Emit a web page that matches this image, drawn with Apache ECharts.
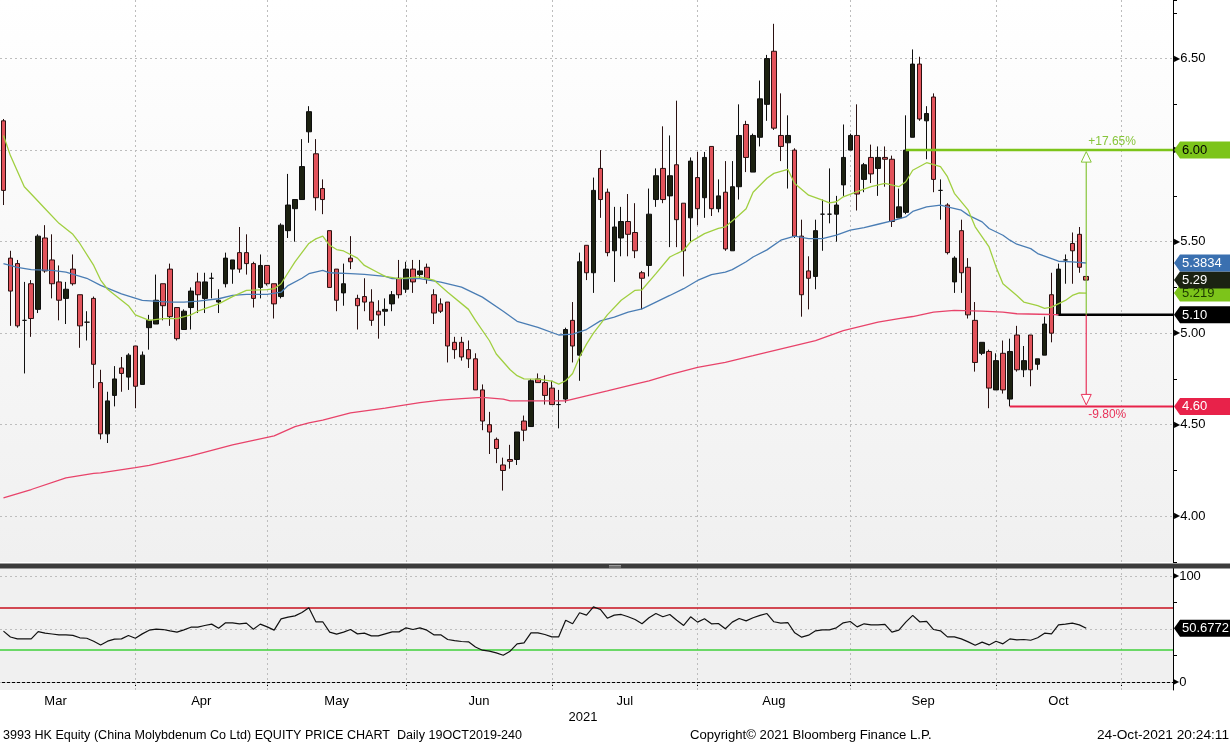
<!DOCTYPE html>
<html>
<head>
<meta charset="utf-8">
<title>3993 HK Equity - Price Chart</title>
<script src="https://cdn.jsdelivr.net/npm/echarts@6/dist/echarts.min.js"></script>
<style>
html,body{margin:0;padding:0;background:#ffffff;}
#chart{width:1230px;height:744px;}
</style>
</head>
<body>
<div id="chart"></div>
<script>
// ---------------- DATA ----------------
const tradingDays = {
  '2021-03': [5,8,9,10,11,12,15,16,17,18,19,22,23,24,25,26,29,30,31],
  '2021-04': [1,7,8,9,12,13,14,15,16,19,20,21,22,23,26,27,28,29,30],
  '2021-05': [3,4,5,6,7,10,11,12,13,14,17,18,20,21,24,25,26,27,28,31],
  '2021-06': [1,2,3,4,7,8,9,10,11,15,16,17,18,21,22,23,24,25,28,29,30],
  '2021-07': [2,5,6,7,8,9,12,13,14,15,16,19,20,21,22,23,26,27,28,29,30],
  '2021-08': [2,3,4,5,6,9,10,11,12,13,16,17,18,19,20,23,24,25,26,27,30,31],
  '2021-09': [1,2,3,6,7,8,9,10,13,14,15,16,17,20,21,23,24,27,28,29,30],
  '2021-10': [4,5,6,7,8,11,12,13,15,18,19,20,21,22]
};
const futureDays = { '2021-10': [25,26,27,28,29], '2021-11': [1,2,3,4,5,8,9] };

const openP = [6.16,5.41,5.38,5.07,5.27,5.13,5.52,5.40,5.28,5.19, 5.35,5.21,5.06,5.19,4.73,4.45,4.66,4.81,4.76,4.93,
  4.72,5.03,5.05,5.27,5.35,5.14,5.02,5.14,5.28,5.19, 5.30,5.17,5.27,5.35,5.44,5.44,5.38,5.25,5.37,5.27,
  5.20,5.56,5.68,5.73,6.10,5.98,5.79,5.56,5.35,5.22, 5.41,5.19,5.20,5.17,5.12,5.12,5.16,5.30,5.24,5.35,
  5.32,5.36,5.21,5.16,5.17,4.95,4.95,4.91,4.86,4.69, 4.50,4.42,4.28,4.31,4.31,4.52,4.49,4.75,4.73,4.70,
  4.61,4.64,5.07,4.88,5.48,5.33,5.90,5.77,5.45,5.52, 5.61,5.55,5.33,5.37,5.73,5.90,5.75,5.92,5.71,5.63,
  5.85,5.74,6.02,5.68,5.77,5.45,5.80,6.14,5.88,6.07, 6.25,6.54,6.08,6.04,6.00,5.53,5.34,5.31,5.65,5.65,
  5.65,5.81,6.00,6.08,5.84,5.96,5.90,5.96,5.95,5.63, 5.66,6.07,6.47,6.16,6.29,5.78,5.70,5.28,5.56,5.36,
  5.07,4.89,4.90,4.69,4.89,4.64,4.99,4.80,4.99,4.83, 4.88,5.21,5.10,5.40,5.49,5.54,5.31];
const closeP = [5.78,5.23,5.04,5.07,5.08,5.53,5.34,5.27,5.18,5.24, 5.27,5.04,5.06,4.83,4.45,4.63,4.75,4.78,4.88,4.71,
  4.88,5.07,5.18,5.15,5.09,4.97,5.12,5.23,5.21,5.28, 5.30,5.18,5.41,5.40,5.35,5.38,5.19,5.37,5.27,5.16,
  5.59,5.70,5.73,5.91,6.21,5.74,5.73,5.25,5.18,5.27, 5.39,5.15,5.17,5.07,5.10,5.13,5.21,5.21,5.35,5.28,
  5.34,5.30,5.11,5.12,4.93,4.91,4.87,4.86,4.69,4.52, 4.46,4.37,4.25,4.30,4.46,4.47,4.74,4.73,4.66,4.61,
  4.61,5.02,4.93,5.39,5.33,5.78,5.73,5.44,5.58,5.61, 5.54,5.45,5.30,5.65,5.86,5.73,5.86,5.62,5.45,5.94,
  5.68,5.96,5.68,5.75,5.46,5.80,6.08,5.96,6.08,6.28, 6.50,6.12,6.02,6.08,5.53,5.21,5.30,5.56,5.65,5.65,
  5.70,5.96,6.08,5.76,5.92,5.87,5.96,5.95,5.61,5.69, 6.00,6.47,6.17,6.20,5.84,5.78,5.44,5.41,5.33,5.10,
  4.84,4.95,4.70,4.85,4.69,4.90,4.80,4.85,4.80,4.86, 5.05,5.00,5.35,5.40,5.45,5.36,5.29];
const highP = [6.17,5.45,5.40,5.28,5.29,5.54,5.59,5.54,5.37,5.28, 5.43,5.21,5.12,5.20,4.80,4.68,4.82,4.87,4.89,4.93,
  4.90,5.10,5.32,5.27,5.38,5.14,5.13,5.25,5.33,5.33, 5.33,5.24,5.44,5.40,5.58,5.54,5.39,5.43,5.37,5.27,
  5.60,5.87,5.73,6.06,6.24,6.06,5.84,5.56,5.35,5.38, 5.53,5.21,5.30,5.24,5.18,5.19,5.23,5.40,5.39,5.40,
  5.40,5.38,5.24,5.19,5.17,4.98,4.98,4.96,4.89,4.72, 4.57,4.43,4.32,4.39,4.46,4.55,4.75,4.78,4.77,4.74,
  4.69,5.03,5.17,5.44,5.48,5.85,6.00,5.79,5.69,5.69, 5.76,5.71,5.34,5.79,5.90,6.13,6.08,6.27,5.71,5.96,
  5.99,5.99,6.02,5.84,5.94,5.94,6.25,6.16,6.09,6.38, 6.52,6.69,6.31,6.19,6.01,5.62,5.42,5.62,5.73,5.90,
  5.75,6.14,6.09,6.25,5.93,6.03,6.02,6.02,5.97,5.79, 6.19,6.55,6.51,6.24,6.31,5.84,5.71,5.42,5.62,5.41,
  5.17,4.95,4.91,4.89,4.96,4.97,5.04,4.93,4.99,4.86, 5.09,5.33,5.38,5.43,5.55,5.58,5.31];
const lowP = [5.70,5.04,5.03,4.78,4.98,5.11,5.33,5.19,5.07,5.05, 5.26,4.92,4.96,4.70,4.42,4.40,4.60,4.68,4.69,4.59,
  4.72,4.91,5.05,5.07,5.04,4.96,5.02,5.02,5.11,5.11, 5.19,5.11,5.25,5.27,5.33,5.32,5.14,5.19,5.26,5.08,
  5.19,5.52,5.50,5.73,6.04,5.67,5.65,5.25,5.12,5.15, 5.35,5.02,5.12,5.04,4.97,5.04,5.12,5.19,5.22,5.22,
  5.30,5.27,5.05,5.11,4.84,4.86,4.85,4.81,4.69,4.47, 4.34,4.29,4.14,4.26,4.28,4.41,4.49,4.73,4.61,4.61,
  4.48,4.62,4.84,4.74,5.29,5.22,5.63,5.42,5.28,5.42, 5.42,5.41,5.13,5.31,5.69,5.71,5.47,5.47,5.31,5.50,
  5.59,5.63,5.64,5.66,5.45,5.45,5.73,5.88,5.88,6.02, 6.16,6.11,5.94,5.79,5.52,5.09,5.13,5.24,5.45,5.60,
  5.50,5.75,6.00,5.67,5.77,5.82,5.75,5.80,5.58,5.63, 5.65,6.07,6.16,5.95,5.77,5.62,5.43,5.22,5.22,5.08,
  4.79,4.88,4.59,4.69,4.67,4.60,4.79,4.76,4.71,4.80, 4.88,4.95,5.10,5.27,5.27,5.33,5.29];

// moving averages: [trading-day index, value]
const ma20 = [[0,6.08],[1,5.97],[3,5.80],[4,5.76],[6,5.68],[8,5.60],[10,5.54],[11,5.49],[13,5.37],[14,5.29],[15,5.24],[16,5.21],[18,5.15],[19,5.10],[21,5.07],[23,5.08],[25,5.08],[27,5.10],[28,5.12],[31,5.16],[33,5.20],[35,5.234],[38,5.238],[39,5.243],[40,5.27],[41,5.33],[42,5.39],[44,5.49],[45,5.515],[46,5.53],[47,5.48],[48,5.457],[49,5.449],[51,5.41],[52,5.37],[54,5.33],[55,5.31],[57,5.298],[60,5.307],[62,5.29],[64,5.224],[67,5.13],[68,5.07],[70,4.96],[71,4.886],[73,4.80],[74,4.768],[75,4.75],[77,4.749],[79,4.738],[80,4.722],[81,4.74],[82,4.78],[83,4.87],[84,4.94],[85,5.00],[86,5.05],[87,5.10],[89,5.18],[91,5.234],[92,5.237],[94,5.325],[96,5.416],[97,5.435],[98,5.453],[99,5.499],[101,5.544],[103,5.572],[104,5.581],[106,5.645],[107,5.68],[108,5.77],[110,5.846],[111,5.873],[113,5.895],[114,5.818],[116,5.754],[118,5.727],[119,5.712],[120,5.718],[121,5.745],[123,5.773],[125,5.80],[127,5.818],[129,5.80],[130,5.827],[131,5.89],[133,5.931],[135,5.91],[136,5.855],[137,5.764],[139,5.672],[140,5.581],[142,5.471],[143,5.362],[144,5.27],[146,5.206],[147,5.17],[149,5.151],[150,5.136],[151,5.142],[153,5.179],[154,5.206],[155,5.22],[156,5.219]];
const ma50 = [[0,5.38],[2,5.36],[4,5.347],[7,5.343],[9,5.334],[12,5.30],[14,5.261],[17,5.215],[20,5.179],[24,5.17],[26,5.17],[28,5.175],[31,5.188],[33,5.206],[35,5.212],[38,5.212],[40,5.224],[41,5.26],[43,5.30],[44,5.325],[46,5.343],[47,5.33],[50,5.325],[52,5.321],[55,5.31],[56,5.298],[60,5.298],[63,5.279],[66,5.252],[69,5.197],[72,5.12],[74,5.065],[77,5.032],[80,4.99],[82,4.995],[84,5.02],[86,5.067],[88,5.088],[90,5.115],[92,5.133],[94,5.17],[96,5.206],[98,5.243],[100,5.288],[102,5.32],[104,5.334],[105,5.347],[107,5.39],[108,5.416],[110,5.455],[112,5.508],[114,5.53],[116,5.517],[118,5.517],[120,5.535],[122,5.563],[124,5.577],[126,5.595],[128,5.613],[130,5.635],[131,5.665],[133,5.69],[135,5.70],[136,5.69],[138,5.672],[139,5.645],[141,5.608],[142,5.572],[144,5.535],[145,5.508],[146,5.486],[148,5.462],[149,5.435],[151,5.407],[152,5.393],[154,5.389],[156,5.3834]];
const ma200 = [[0,4.10],[4,4.146],[9,4.21],[13,4.234],[14,4.237],[19,4.265],[21,4.278],[27,4.33],[33,4.39],[39,4.439],[42,4.49],[44,4.51],[46,4.525],[50,4.565],[55,4.59],[57,4.603],[60,4.621],[63,4.634],[66,4.643],[69,4.649],[72,4.64],[73,4.63],[81,4.63],[84,4.658],[87,4.685],[91,4.722],[93,4.74],[96,4.773],[100,4.813],[104,4.841],[108,4.877],[117,4.959],[121,5.014],[126,5.06],[129,5.08],[131,5.091],[134,5.115],[137,5.124],[141,5.12],[144,5.115],[146,5.106],[151,5.102],[156,5.10]];

const rsi = [48,42.5,40.7,40.7,40.7,47.6,46.1,45.3,44.5,44.5, 44.0,41.7,41.3,38.5,35.0,38.5,40.4,40.7,43.9,41.3,
  45.4,48.9,49.8,49.5,48.2,47.0,49.2,51.7,51.7,53.3, 54.6,50.8,55.8,55.8,54.9,55.5,49.8,54.6,52.0,48.9,
  59.6,61.2,62.4,65.6,70.0,56.8,56.8,47.0,45.1,47.0, 49.5,45.4,46.1,43.5,43.5,45.4,47.3,47.3,51.1,49.5,
  51.1,48.9,44.5,44.5,40.1,39.1,38.2,37.9,33.1,30.0, 29.1,27.5,25.3,29.1,36.0,36.9,46.4,46.4,44.8,42.6,
  42.6,58.3,54.9,65.3,63.1,70.9,68.4,60.2,63.1,63.7, 61.5,59.0,54.9,60.6,64.6,61.5,63.7,58.3,53.3,61.5,
  56.5,59.6,54.9,55.2,50.2,56.5,59.9,57.7,60.6,62.8, 64.6,56.8,55.5,56.1,46.4,42.3,44.2,48.3,49.2,49.2,
  51.1,55.8,57.1,52.0,54.9,53.9,53.9,54.3,47.0,48.9, 56.5,62.8,56.8,57.1,49.5,48.3,42.6,42.6,40.7,37.9,
  34.7,37.6,35.0,38.5,36.0,40.7,39.8,40.1,39.4,41.7, 46.1,45.4,53.9,54.6,55.5,53.9,50.68];

const monthNames = ['Mar','Apr','May','Jun','Jul','Aug','Sep','Oct'];
const monthStartIdx = [-4, 19, 38, 58, 79, 100, 122, 143, 161];   // first trading day of each month (last = Nov)
const priceTicks = [4.00, 4.50, 5.00, 5.50, 6.00, 6.50];
const rsiLabelTicks = [0, 100];
const rsiMinorTicks = [25, 75];
const rsiGridTicks = [0, 50, 100];
const rsiBands = [70, 30];

const levelTarget = { value: 6.00, from: 130 };
const levelRef    = { value: 5.10, from: 152 };
const levelStop   = { value: 4.60, from: 145 };
const lastValues  = { ma50: 5.3834, close: 5.29, ma20: 5.219, rsi: 50.6772 };

const titleText = '3993 HK Equity (China Molybdenum Co Ltd) EQUITY PRICE CHART  Daily 19OCT2019-240';
const copyrightText = 'Copyright\u00A9 2021 Bloomberg Finance L.P.';
const stampText = '24-Oct-2021 20:24:11';
const yearText = '2021';

// ---------------- BUILD ----------------
const FONT = "'Liberation Sans', Arial, sans-serif";
const dates = [];
function pushDays(obj) {
  Object.keys(obj).forEach(m => obj[m].forEach(d => dates.push(m + '-' + String(d).padStart(2, '0'))));
}
pushDays(tradingDays);
pushDays(futureDays);

const candles = openP.map((o, i) => [o, closeP[i], lowP[i], highP[i]]);
const gridSet = new Set(monthStartIdx.filter(i => i >= 0 && i < dates.length));
const labelAt = {};
for (let i = 0; i < monthNames.length; i++) {
  const mid = (monthStartIdx[i] + monthStartIdx[i + 1]) / 2;
  const k = Math.floor(mid);
  labelAt[k] = { name: monthNames[i], half: mid !== k };
}

const chart = echarts.init(document.getElementById('chart'), null, { renderer: 'canvas', width: 1230, height: 744 });

const dotted = { color: '#bdbdbd', width: 1, type: [2, 3] };
const lbl = { fontFamily: FONT, fontSize: 13, color: '#000' };

function fmtPrice(v) {
  for (const t of priceTicks) if (Math.abs(v - t) < 1e-6) return '{t|\u25B6}{v|' + t.toFixed(2) + '}';
  return '';
}
function fmtRsi(v) {
  for (const t of rsiLabelTicks) if (Math.abs(v - t) < 1e-6) return '{t|\u25B6}{v|' + t + '}';
  for (const t of rsiMinorTicks) if (Math.abs(v - t) < 1e-6) return '{m|}';
  return '';
}
const tri = { fontFamily: 'DejaVu Sans', fontSize: 8, color: '#000' };

const option = {
  animation: false,
  textStyle: { fontFamily: FONT },
  grid: [
    { left: -1, right: 57, top: 0, height: 562, show: true, borderWidth: 0,
      backgroundColor: new echarts.graphic.LinearGradient(0, 0, 0, 1, [{ offset: 0, color: '#ffffff' }, { offset: 1, color: '#f0f0f0' }]) },
    { left: -1, right: 57, top: 568, height: 122, show: true, borderWidth: 0, backgroundColor: '#f0f0f0' }
  ],
  xAxis: [
    { type: 'category', gridIndex: 0, data: dates, boundaryGap: true,
      axisLine: { show: false }, axisTick: { show: false }, axisLabel: { show: false }, splitLine: { show: false } },
    { type: 'category', gridIndex: 1, data: dates, boundaryGap: true,
      axisLine: { show: true, lineStyle: { color: '#000', width: 1 } },
      axisTick: { show: true, alignWithLabel: true, length: 4, interval: (i) => gridSet.has(i), lineStyle: { color: '#000' } },
      axisLabel: { show: true, margin: 5, interval: (i) => labelAt[i] !== undefined,
        formatter: (v, i) => { const m = labelAt[i]; if (!m) return ''; return (m.half ? '{h|' : '{n|') + m.name + '}'; },
        rich: { n: { ...lbl }, h: { ...lbl, padding: [0, 0, 0, 7] } } },
      splitLine: { show: false } }
  ],
  yAxis: [
    { type: 'value', gridIndex: 0, position: 'right', min: 3.75, max: 6.82, interval: 0.25,
      axisLine: { show: true, onZero: false, lineStyle: { color: '#000', width: 1 } },
      axisTick: { show: true, length: 4, lineStyle: { color: '#000' } },
      splitLine: { show: false },
      axisLabel: { show: true, margin: 1, formatter: fmtPrice, rich: { t: tri, v: { ...lbl } } } },
    { type: 'value', gridIndex: 1, position: 'right', min: -7.5, max: 107.5, interval: 2.5,
      axisLine: { show: true, onZero: false, lineStyle: { color: '#000', width: 1 } },
      axisTick: { show: false }, splitLine: { show: false },
      axisLabel: { show: true, margin: 0, formatter: fmtRsi,
        rich: { t: tri, v: { ...lbl }, m: { width: 4, height: 1, backgroundColor: '#000' } } } }
  ],
  series: [
    { name: 'gridMain', type: 'line', xAxisIndex: 0, yAxisIndex: 0, data: [], silent: true, z: 1,
      markLine: { silent: true, z: 1, symbol: ['none', 'none'], label: { show: false }, lineStyle: dotted,
        emphasis: { disabled: true }, animation: false,
        data: [...[...gridSet].map(i => ({ xAxis: i })), ...priceTicks.map(v => ({ yAxis: v }))] } },
    { name: 'Price', type: 'candlestick', xAxisIndex: 0, yAxisIndex: 0, data: candles, barWidth: 5, z: 2,
      itemStyle: { color: '#1c2111', color0: '#e2535b', borderColor: '#0e0e0e', borderColor0: '#2a1010',
        borderColorDoji: '#111', borderWidth: 1 } },
    { name: 'MA200', type: 'line', xAxisIndex: 0, yAxisIndex: 0, data: ma200, showSymbol: false, symbol: 'none',
      lineStyle: { color: '#e8436a', width: 1.3 }, z: 3 },
    { name: 'MA50', type: 'line', xAxisIndex: 0, yAxisIndex: 0, data: ma50, showSymbol: false, symbol: 'none',
      lineStyle: { color: '#4a7db4', width: 1.3 }, z: 3 },
    { name: 'MA20', type: 'line', xAxisIndex: 0, yAxisIndex: 0, data: ma20, showSymbol: false, symbol: 'none',
      lineStyle: { color: '#a0cf40', width: 1.3 }, z: 3 },
    { name: 'gridRsi', type: 'line', xAxisIndex: 1, yAxisIndex: 1, data: [], silent: true, z: 1,
      markLine: { silent: true, z: 1, symbol: ['none', 'none'], label: { show: false }, lineStyle: dotted,
        emphasis: { disabled: true }, animation: false,
        data: [...[...gridSet].map(i => ({ xAxis: i })), ...rsiGridTicks.map(v => ({ yAxis: v }))] } },
    { name: 'rsiBands', type: 'line', xAxisIndex: 1, yAxisIndex: 1, data: [], silent: true, z: 2,
      markLine: { silent: true, z: 2, symbol: ['none', 'none'], label: { show: false }, emphasis: { disabled: true }, animation: false,
        data: [ { yAxis: rsiBands[0], lineStyle: { color: '#c8101e', width: 1.5, type: 'solid' } },
                { yAxis: rsiBands[1], lineStyle: { color: '#3fd03a', width: 1.5, type: 'solid' } } ] } },
    { name: 'RSI', type: 'line', xAxisIndex: 1, yAxisIndex: 1, data: rsi, showSymbol: false, symbol: 'none',
      lineStyle: { color: '#111', width: 1.2 }, z: 3 }
  ]
};
chart.setOption(option);

// ---------------- OVERLAY (positions from the chart's own scales) ----------------
function txt(text, x, y, fill, size, align, sx) {
  return { type: 'text', x: x, y: y, z: 120, silent: true, scaleX: sx || 1,
    style: { text: text, fill: fill, font: size + 'px ' + FONT, align: align || 'left', verticalAlign: 'middle',
      textAlign: align || 'left', textVerticalAlign: 'middle' } };
}
function buildOverlay() {
  const W = chart.getWidth();
  const P0 = (i, v) => chart.convertToPixel({ gridIndex: 0 }, [i, v]);
  const P1 = (i, v) => chart.convertToPixel({ gridIndex: 1 }, [i, v]);
  const band = P0(1, 5)[0] - P0(0, 5)[0];
  const axisX = P0(dates.length - 1, 5)[0] + band / 2;
  const lastIdx = closeP.length - 1;
  const g = [];

  // panel separator
  const sepTop = P0(0, 3.75)[1] + 1.5;
  g.push({ type: 'rect', z: 90, silent: true, shape: { x: 0, y: sepTop, width: W, height: 5 }, style: { fill: '#3c3c3c' } });
  g.push({ type: 'rect', z: 91, silent: true, shape: { x: 609, y: sepTop + 1.5, width: 12, height: 1 }, style: { fill: '#9a9a9a' } });
  g.push({ type: 'rect', z: 91, silent: true, shape: { x: 609, y: sepTop + 3, width: 12, height: 1 }, style: { fill: '#9a9a9a' } });

  // level lines
  const lv = [
    [levelTarget, '#7cc41a', 2.5],
    [levelRef, '#000000', 2.5],
    [levelStop, '#e8224a', 2]
  ];
  lv.forEach(([l, c, w]) => {
    const p = P0(l.from, l.value);
    g.push({ type: 'line', z: 60, silent: true, shape: { x1: p[0], y1: p[1], x2: axisX, y2: p[1] }, style: { stroke: c, lineWidth: w } });
  });

  // arrows from reference level to target / stop
  const ax = P0(lastIdx, levelRef.value)[0];
  const yRef = P0(lastIdx, levelRef.value)[1];
  const yT = P0(lastIdx, levelTarget.value)[1];
  const yS = P0(lastIdx, levelStop.value)[1];
  const green = '#86c53a', red = '#e8335a';
  g.push({ type: 'line', z: 61, silent: true, shape: { x1: ax, y1: yRef, x2: ax, y2: yT + 12 }, style: { stroke: green, lineWidth: 1.2 } });
  g.push({ type: 'polygon', z: 62, silent: true, shape: { points: [[ax, yT + 1.5], [ax - 5, yT + 12], [ax + 5, yT + 12]] }, style: { fill: '#ffffff', stroke: green, lineWidth: 1 } });
  g.push({ type: 'line', z: 61, silent: true, shape: { x1: ax, y1: yRef, x2: ax, y2: yS - 12 }, style: { stroke: red, lineWidth: 1.2 } });
  g.push({ type: 'polygon', z: 62, silent: true, shape: { points: [[ax, yS - 1.5], [ax - 5, yS - 12], [ax + 5, yS - 12]] }, style: { fill: '#ffffff', stroke: red, lineWidth: 1 } });
  const up = (levelTarget.value / levelRef.value - 1) * 100;
  const dn = (levelStop.value / levelRef.value - 1) * 100;
  g.push(txt('+' + up.toFixed(2) + '%', ax + 2, yT - 8, green, 12));
  g.push(txt(dn.toFixed(2) + '%', ax + 2, yS + 8, red, 12));

  // right-hand value tags
  const tags = [
    { y: P0(lastIdx, lastValues.ma20)[1], text: String(lastValues.ma20), fill: '#7cc41a', color: '#1d3a00' },
    { y: P0(lastIdx, lastValues.close)[1], text: lastValues.close.toFixed(2), fill: '#1b2212', color: '#ffffff' },
    { y: P0(lastIdx, lastValues.ma50)[1], text: String(lastValues.ma50), fill: '#3a70b0', color: '#ffffff' },
    { y: P0(lastIdx, levelTarget.value)[1], text: levelTarget.value.toFixed(2), fill: '#7cc41a', color: '#000000' },
    { y: P0(lastIdx, levelRef.value)[1], text: levelRef.value.toFixed(2), fill: '#000000', color: '#ffffff' },
    { y: P0(lastIdx, levelStop.value)[1], text: levelStop.value.toFixed(2), fill: '#e8224a', color: '#ffffff' },
    { y: P1(lastIdx, lastValues.rsi)[1], text: String(lastValues.rsi), fill: '#000000', color: '#ffffff' }
  ];
  tags.forEach((t, k) => {
    const h = 8.5;
    g.push({ type: 'polygon', z: 100 + k * 2, silent: true,
      shape: { points: [[axisX + 1, t.y], [axisX + 7, t.y - h], [W, t.y - h], [W, t.y + h], [axisX + 7, t.y + h]] },
      style: { fill: t.fill } });
    const e = txt(t.text, axisX + 9, t.y + 0.5, t.color, 13);
    e.z = 101 + k * 2;
    g.push(e);
  });

  // footer / year
  const axisBottom = P1(0, -7.5)[1];
  g.push(txt(yearText, 583, axisBottom + 27, '#000', 13, 'center'));
  g.push(txt(titleText, 3, 736, '#000', 12, 'left', 1.048));
  g.push(txt(copyrightText, 690, 736, '#000', 12, 'left', 1.095));
  g.push(txt(stampText, W - 1, 736, '#000', 12, 'right', 1.14));
  return g;
}
chart.setOption({ graphic: buildOverlay() });
</script>
</body>
</html>
